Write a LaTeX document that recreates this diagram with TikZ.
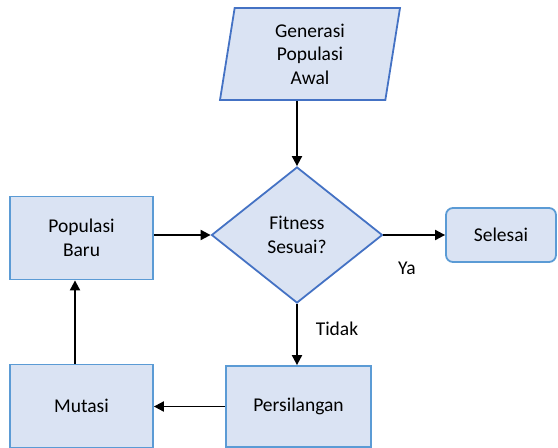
\documentclass[tikz,border=0pt]{standalone}
\usepackage{fontspec}
\setmainfont{Carlito}
\usetikzlibrary{shapes.geometric, arrows.meta}
\definecolor{boxfill}{HTML}{DAE3F3}
\definecolor{darkline}{HTML}{4472C4}
\definecolor{lightline}{HTML}{5B9BD5}
\tikzset{>={Stealth[inset=0pt,length=10pt,width=10pt]}}
\tikzset{
  prosesbox/.style={draw=lightline, fill=boxfill, line width=1.8pt, minimum width=143pt, minimum height=83pt, align=center},
  arus/.style={->, line width=1.9pt}
}

\begin{document}
\begin{tikzpicture}[x=1pt, y=-1pt, font=\fontsize{19.5}{23.5}\selectfont]
\useasboundingbox (0,0) rectangle (558,448);
\node[trapezium, trapezium left angle=77.7, trapezium right angle=102.3, draw=darkline, fill=boxfill, line width=1.8pt, minimum width=180pt, minimum height=92pt, trapezium stretches body, align=center] (awal) at (310,54) {Generasi\\Populasi\\Awal};
\node[diamond, draw=darkline, fill=boxfill, line width=1.8pt, minimum width=171pt, minimum height=136pt, aspect=1.26, align=center, inner sep=0pt] (fit) at (297,235) {Fitness\\Sesuai?};
\node[prosesbox] (baru) at (81.5,238) {Populasi\\Baru};
\node[draw=lightline, fill=boxfill, line width=1.8pt, rounded corners=7pt, minimum width=110pt, minimum height=54pt] (selesai) at (501,235) {Selesai};
\node[prosesbox] (mutasi) at (81.5,406) {Mutasi};
\node[prosesbox, minimum width=145pt, minimum height=81pt] (silang) at (298.5,406.5) {Persilangan};

\draw[arus] (fit.north |- awal.south) -- (fit.north);
\draw[arus] (baru.east |- fit.west) -- (fit.west);
\draw[arus] (fit.east) -- (selesai.west |- fit.east);
\draw[arus] (fit.south) -- (silang.north -| fit.south);
\draw[arus] (silang.west) -- (mutasi.east |- silang.west);
\draw[arus] ([xshift=-6.5pt]mutasi.north) -- ([xshift=-6.5pt]baru.south);

\node (ya) at (407,268) {Ya};
\node (tidak) at (337,329) {Tidak};
\end{tikzpicture}
\end{document}
